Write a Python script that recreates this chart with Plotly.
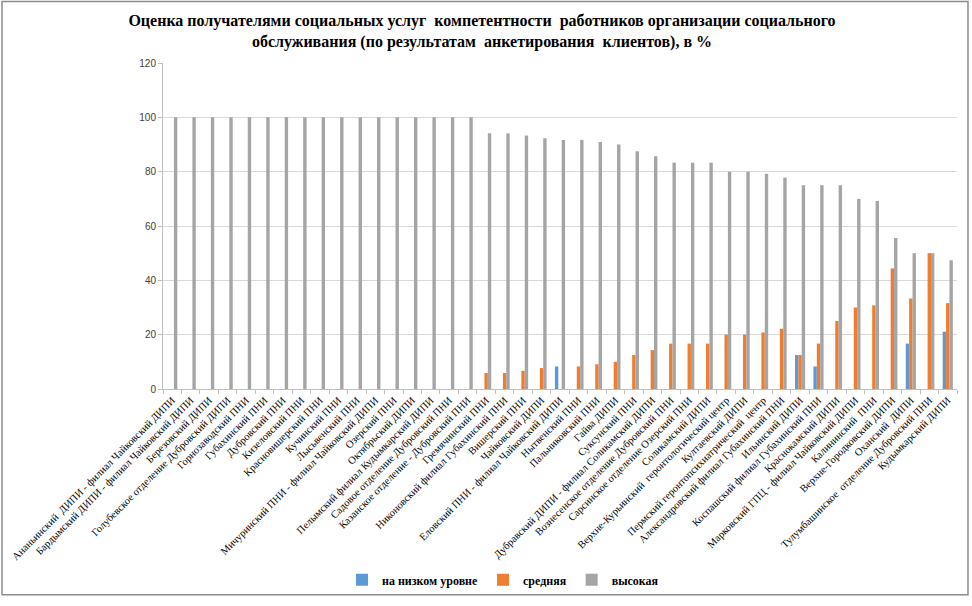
import plotly.graph_objects as go

categories = [
    "Ананьинский  ДИПИ - филиал Чайковский ДИПИ",
    "Бардымский ДИПИ - филиал Чайковский ДИПИ",
    "Березовский ДИПИ",
    "Голубевское отделение Дубровский ДИПИ",
    "Горнозаводский ПНИ",
    "Губахинский ПНИ",
    "Дубровский ПНИ",
    "Кизеловский ПНИ",
    "Красновишерский ПНИ",
    "Кучинский ПНИ",
    "Лысьвенский ПНИ",
    "Мичуринский ПНИ - филиал Чайковский ДИПИ",
    "Озерский ПНИ",
    "Октябрьский ДИПИ",
    "Пелымский филиал Кудымкарский ДИПИ",
    "Садовое отделение Дубровский ПНИ",
    "Казанское отделение - Дубровский ПНИ",
    "Гремячинский ПНИ",
    "Никоновский филиал Губахинский ПНИ",
    "Вишерский ПНИ",
    "Чайковский ДИПИ",
    "Еловский ПНИ - филиал Чайковский ДИПИ",
    "Нытвенский ПНИ",
    "Пальниковский ПНИ",
    "Гайва ДИПИ",
    "Суксунский ПНИ",
    "Дубравский ДИПИ - филиал Соликамский ДИПИ",
    "Вознесенское отделение Дубровский ПНИ",
    "Сарсинское отделение Озерский ПНИ",
    "Соликамский ДИПИ",
    "Верхне-Курьинский  геронтологический центр",
    "Култаевский ДИПИ",
    "Пермский геронтопсихиатрический  центр",
    "Александровский филиал Губахинский ПНИ",
    "Ильинский ДИПИ",
    "Коспашский филиал Губахинский ПНИ",
    "Краснокамский ДИПИ",
    "Марковский ГПЦ - филиал Чайковский ДИПИ",
    "Калининский  ПНИ",
    "Верхне-Городковский ДИПИ",
    "Оханский  ДИПИ",
    "Тулумбашинское  отделение Дубровский ПНИ",
    "Кудымкарский ДИПИ",
]

low = [0]*20 + [0, 8.3, 0, 0, 0, 0, 0, 0, 0, 0, 0, 0, 0, 0,
                12.5, 8.3, 0, 0, 0, 0, 16.7, 0, 21.1]
medium = [0]*17 + [5.9, 5.9, 6.7, 7.7, 0, 8.3, 9.1, 10.0, 12.5, 14.3,
                   16.7, 16.7, 16.7, 20.0, 20.0, 20.8, 22.2, 12.5, 16.7,
                   25.0, 30.0, 30.8, 44.4, 33.3, 50.0, 31.6]
high = [100]*17 + [94.1, 94.1, 93.3, 92.3, 91.7, 91.7, 90.9, 90.0, 87.5, 85.7,
                   83.3, 83.3, 83.3, 80.0, 80.0, 79.2, 77.8, 75.0, 75.0,
                   75.0, 70.0, 69.2, 55.6, 50.0, 50.0, 47.4]

series_names = ["на низком уровне", "средняя", "высокая"]
colors = ["#5B9BD5", "#ED7D31", "#A5A5A5"]

fig = go.Figure()
for name, vals, col in zip(series_names, [low, medium, high], colors):
    fig.add_trace(go.Bar(x=categories, y=vals, name=name, marker_color=col,
                         marker_line_width=0))

W, H = 972, 606
L, R, T, B = 163, 15, 63, 215
pw, ph = W - L - R, H - T - B

def px(x):
    return (x - L) / pw

def py(y):
    return (H - B - y) / ph

fig.update_layout(
    width=W, height=H,
    margin=dict(l=L, r=R, t=T, b=B),
    paper_bgcolor="white", plot_bgcolor="white",
    barmode="group", bargap=0.45, bargroupgap=0,
    title=dict(
        text="Оценка получателями социальных услуг  компетентности  работников организации социального<br>обслуживания (по результатам  анкетирования  клиентов), в %",
        x=482 / W, xanchor="center", xref="container",
        y=1 - 26 / H, yanchor="top", yref="container",
        font=dict(family="Liberation Serif", size=16, color="black", weight="bold"),
    ),
    font=dict(family="Liberation Serif", color="black"),
    showlegend=True,
    legend=dict(
        orientation="h", x=px(503), xanchor="center", y=py(583), yanchor="middle",
        font=dict(family="Liberation Serif", size=12, color="black", weight="bold"),
        itemwidth=30, traceorder="normal",
    ),
    xaxis=dict(
        type="category", tickangle=-45, tickson="boundaries",
        ticks="outside", ticklen=4, tickcolor="#bfbfbf",
        tickfont=dict(family="Liberation Serif", size=10.5, color="black"),
        showgrid=False, showline=True, linecolor="#bfbfbf", linewidth=1,
        automargin=False,
    ),
    yaxis=dict(
        range=[0, 120], dtick=20, showgrid=True, gridcolor="#d9d9d9", gridwidth=1,
        showline=True, linecolor="#bfbfbf", linewidth=1,
        ticks="outside", ticklen=4, tickcolor="#bfbfbf",
        tickfont=dict(family="Liberation Sans", size=10, color="#404040"),
        zeroline=False, automargin=False,
    ),
    shapes=[dict(type="rect", xref="paper", yref="paper",
                 x0=px(2), x1=px(968), y0=py(598), y1=py(1),
                 line=dict(color="#8c8c8c", width=1.5), fillcolor="rgba(0,0,0,0)",
                 layer="below")],
)

fig.write_html("out.html", config={"displayModeBar": False},
               post_script="document.body.style.margin='0';document.body.style.overflow='hidden';")
